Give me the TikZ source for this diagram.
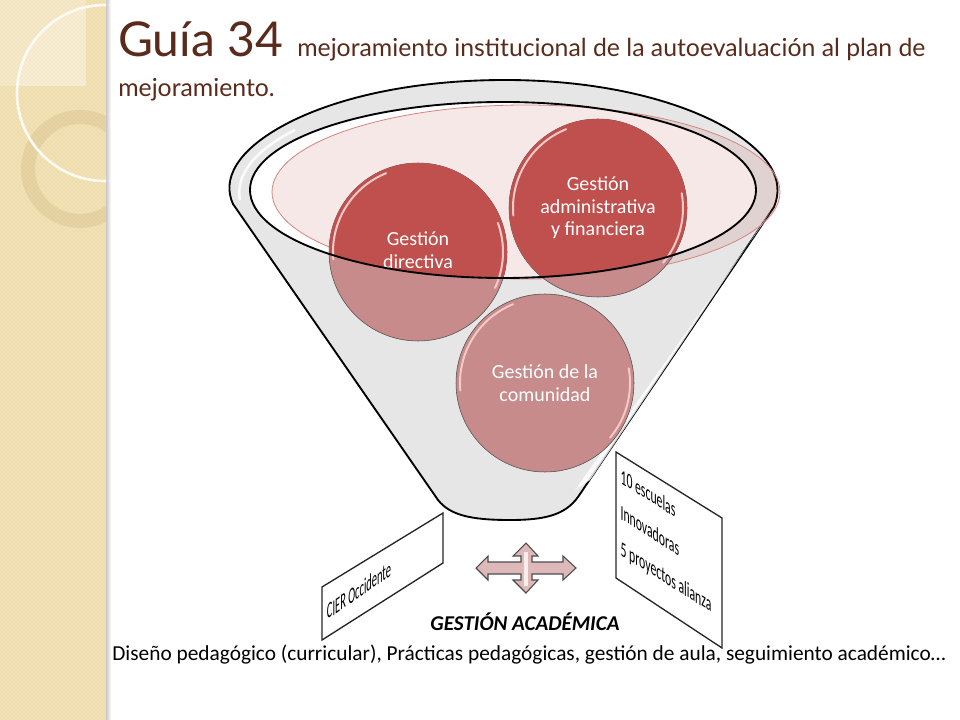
\documentclass[tikz,border=0pt]{standalone}
\usepackage{fontspec}
\setmainfont{Carlito}
\newfontfamily\titlefont{Lato}
\usetikzlibrary{patterns}
\definecolor{panelbg}{HTML}{EFDCAB}
\definecolor{paneldot}{HTML}{FDF8E8}
\definecolor{ringcol}{HTML}{DFCB98}
\definecolor{titlecol}{HTML}{5A2A1B}
\definecolor{funnelgray}{HTML}{E6E6E6}
\definecolor{redfull}{HTML}{C0504D}
\definecolor{redsoft}{HTML}{C68B8A}
\definecolor{redrim}{HTML}{F4C9C7}
\tikzset{
  gestion/.style={circle,minimum size=133.5pt,inner sep=0pt,align=center,
    text=white,font=\fontsize{15}{17}\selectfont},
  rim/.style={redrim,line width=1.5pt,line cap=round},
  slantbox/.style={draw=black!85,line width=1pt,fill=white},
  titletext/.style={anchor=base west,inner sep=0pt,text=titlecol,font=\titlefont\fontsize{18.6}{20}\selectfont},
}
\begin{document}
\begin{tikzpicture}[x=0.75pt,y=-0.75pt]
\useasboundingbox (0,0) rectangle (960,720);
% side panel
\shade[left color=black!30,right color=white] (104,0) rectangle (111,720);
\begin{scope}
\clip (0,0) rectangle (106,720);
\fill[panelbg] (0,0) rectangle (106,720);
\fill[pattern=crosshatch dots,pattern color=paneldot] (0,0) rectangle (106,720);
\fill[white,opacity=.25] (0,0) rectangle (86,86);
\begin{scope}
\clip (0,0) rectangle (86,86);
\fill[white,opacity=.2] (105,93) circle (88);
\end{scope}
\draw[ringcol,line width=10.5pt,opacity=.65] (80,169) circle (52);
\draw[white!85!panelbg,line width=2pt] (105,93) circle (88);
\end{scope}
% title
\node[titletext,font=\titlefont\fontsize{36}{36}\selectfont] (guia) at (118,57) {Guía 34};
\node[titletext] (titulo) at (297,57) {mejoramiento institucional de la autoevaluación al plan de};
\node[titletext] (titulob) at (118,97) {mejoramiento.};
% funnel
\draw[black,line width=1.4pt,fill=funnelgray] (233,204) .. controls (222,180) and (235,150) .. (290,122)
  .. controls (350,92) and (430,80) .. (505,80)
  .. controls (600,80) and (680,100) .. (730,130)
  .. controls (770,155) and (785,180) .. (774,207)
  -- (578,497) .. controls (565,515) and (545,520) .. (510,520)
  .. controls (470,520) and (450,515) .. (438,500) -- cycle;
\fill[white,opacity=.8] (762,225) -- (770,212) -- (590,480) -- (575,490) -- cycle;
\draw[white,line width=2pt,opacity=.8] (240,200) .. controls (235,175) and (255,150) .. (295,130);
\coordinate (bowl) at (503,190);
\fill[white] (bowl) ellipse (253 and 88);
\draw[redfull!70,fill=redfull,fill opacity=.13,line width=.6pt] (526,192) ellipse (254 and 87);
% circles
\node[gestion,fill=redsoft,draw=black!70] (comunidad) at (545,383) {Gestión de la\\comunidad};
\fill[redsoft,draw=black!70] (418,252) circle (89);
\fill[redsoft,draw=black!70] (598,208) circle (89);
\begin{scope}
\clip (bowl) ellipse (253 and 88);
\fill[redfull] (418,252) circle (89);
\fill[redfull] (598,208) circle (89);
\end{scope}
\draw[rim] (418,252) ++(-112:85) arc (-112:-185:85);
\draw[rim] (418,252) ++(25:85) arc (25:-20:85);
\draw[rim] (598,208) ++(-112:85) arc (-112:-185:85);
\draw[rim] (598,208) ++(40:85) arc (40:-10:85);
\draw[rim] (545,383) ++(-112:85) arc (-112:-185:85);
\draw[rim] (545,383) ++(40:85) arc (40:-10:85);
\node[gestion] (directiva) at (418,250) {Gestión\\directiva};
\node[gestion] (administrativa) at (598,208) {Gestión\\administrativa\\y financiera};
\draw[black,line width=1.4pt] (bowl) ellipse (253 and 88);
% side boxes
\draw[slantbox] (322,587) -- (443,513) -- (443,563) -- (322,640) -- cycle;
\node[transform shape,yslant=.69,xscale=.46,inner sep=0pt,font=\fontsize{17}{17}\selectfont] (cier) at (359,590) {CIER Occidente};
\draw[slantbox] (616,452) -- (722,518) -- (722,648) -- (616,578) -- cycle;
\node[transform shape,yslant=-.63,xscale=.55,inner sep=0pt,align=left,font=\fontsize{16}{27}\selectfont] (escuelas) at (666,542) {10 escuelas\\Innovadoras\\5 proyectos alianza};
% cross arrow
\draw[fill=redsoft!60,draw=black!70,line width=.8pt] (476,568) -- (488,556) -- (488,562) -- (521,562) -- (521,556) -- (513,556)
  -- (526,543) -- (538,556) -- (532,556) -- (532,562) -- (563,562) -- (563,556) -- (576,568) -- (563,580) -- (563,574)
  -- (532,574) -- (532,580) -- (538,580) -- (526,593) -- (513,580) -- (521,580) -- (521,574) -- (488,574) -- (488,580) -- cycle;
\fill[white,opacity=.75] (524,552) rectangle (528,586);
% bottom text
\node[font=\fontsize{15.8}{16}\selectfont\bfseries\itshape] (academica) at (525,622) {GESTIÓN ACADÉMICA};
\node[font=\fontsize{16}{16}\selectfont] (diseno) at (529,655) {Diseño pedagógico (curricular), Prácticas pedagógicas, gestión de aula, seguimiento académico…};
\end{tikzpicture}
\end{document}
